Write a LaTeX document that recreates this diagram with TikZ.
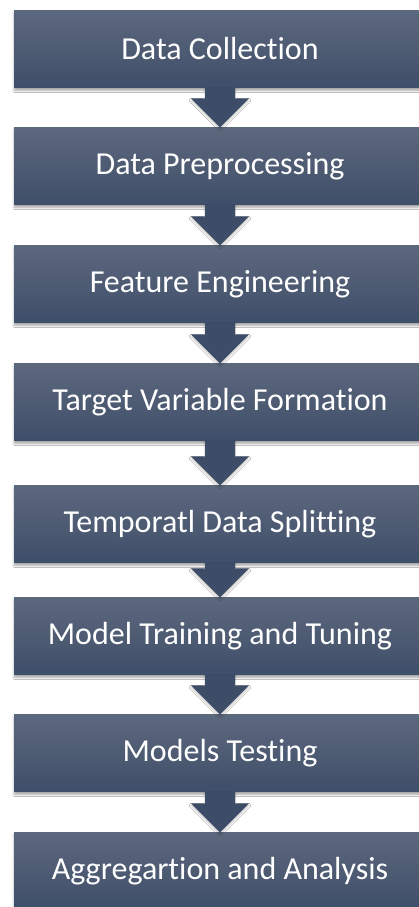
\documentclass[tikz,border=0pt]{standalone}
\usepackage{fontspec}
\setmainfont{Carlito}[Ligatures={NoCommon,NoRare,NoContextual}]
\usetikzlibrary{calc,shadows.blur}
\definecolor{boxtop}{HTML}{5C687D}
\definecolor{boxbot}{HTML}{3F4E69}
\definecolor{arrowcol}{HTML}{3E4D67}
\pgfdeclareverticalshading{boxshade}{100bp}{color(0bp)=(boxbot); color(25bp)=(boxbot); color(75bp)=(boxtop); color(100bp)=(boxtop)}
\tikzset{
  stepbox/.style={rectangle, minimum width=412pt, minimum height=77pt, inner sep=0pt,
    shading=boxshade, text=white,
    font=\fontsize{32}{36}\selectfont,
    blur shadow={shadow xshift=0pt, shadow yshift=-3pt, shadow blur steps=6, shadow opacity=35}},
  flowarrow/.style={fill=arrowcol,
    blur shadow={shadow xshift=0pt, shadow yshift=-2pt, shadow blur steps=4, shadow opacity=25}}
}
\newcommand{\flowarr}[2]{%
  \path[flowarrow] ($(#1.south)+(-15,0)$) -- ($(#1.south)+(15,0)$)
    -- ($(#2.north)+(15,-29)$) -- ($(#2.north)+(29,-29)$) -- (#2.north)
    -- ($(#2.north)+(-29,-29)$) -- ($(#2.north)+(-15,-29)$) -- cycle;}
\begin{document}
\begin{tikzpicture}[x=1pt,y=-1pt]
\fill[white] (0,0) rectangle (419,907);
\useasboundingbox (0,0) rectangle (419,907);
\begin{scope}
\clip (0,0) rectangle (419,907);
\node[stepbox] (b1) at (220,49) {Data Collection};
\node[stepbox] (b2) at (220,166) {Data Preprocessing};
\node[stepbox] (b3) at (220,284) {Feature Engineering};
\node[stepbox] (b4) at (220,402) {Target Variable Formation};
\node[stepbox] (b5) at (220,524) {Temporatl Data Splitting};
\node[stepbox] (b6) at (220,636) {Model Training and Tuning};
\node[stepbox] (b7) at (220,753) {Models Testing};
\node[stepbox] (b8) at (220,871) {Aggregartion and Analysis};
\flowarr{b1}{b2}
\flowarr{b2}{b3}
\flowarr{b3}{b4}
\flowarr{b4}{b5}
\flowarr{b5}{b6}
\flowarr{b6}{b7}
\flowarr{b7}{b8}
\end{scope}
\end{tikzpicture}
\end{document}
